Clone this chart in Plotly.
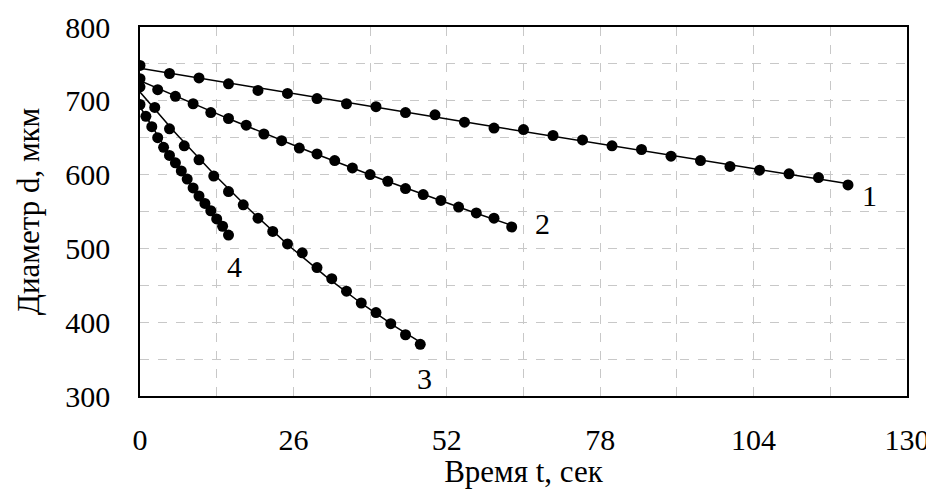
import numpy as np
import plotly.graph_objects as go

# Series 1
t1 = [0, 5, 10, 15, 20, 25, 30, 35, 40, 45, 50, 55, 60, 65, 70, 75, 80, 85, 90, 95, 100, 105, 110, 115, 120]
d1 = [748, 737, 731, 723, 714, 710, 703, 696, 692, 684, 681, 671, 663, 661, 653, 647, 639, 634, 625, 619, 611, 606, 601, 596, 586]
# Series 2
t2 = [0, 3, 6, 9, 12, 15, 18, 21, 24, 27, 30, 33, 36, 39, 42, 45, 48, 51, 54, 57, 60, 63]
d2 = [730, 715, 706, 696, 684, 676, 667, 655, 646, 636, 628, 619, 609, 600, 591, 581, 573, 565, 556, 548, 541, 529]
# Series 3
t3 = [0, 2.5, 5, 7.5, 10, 12.5, 15, 17.5, 20, 22.5, 25, 27.5, 30, 32.5, 35, 37.5, 40, 42.5, 45, 47.5]
d3 = [719, 691, 662, 639, 620, 598, 577, 559, 541, 523, 506, 494, 474, 459, 442, 426, 413, 398, 383, 370]
# Series 4
t4 = [0, 1, 2, 3, 4, 5, 6, 7, 8, 9, 10, 11, 12, 13, 14, 15]
d4 = [695, 679, 665, 650, 637, 626, 616, 605, 594, 582, 571, 561, 551, 540, 530, 518]

series_labels = ["1", "2", "3", "4"]
label_x = [123.7, 68.3, 48.3, 16.0]
label_y = [572, 534, 324, 476]

x_ticks = [0, 26, 52, 78, 104, 130]
y_ticks = [300, 400, 500, 600, 700, 800]

FONT = "Liberation Serif"
FS = 30
FT = 31
fig = go.Figure()

for t, d in [(t1, d1), (t2, d2), (t3, d3), (t4, d4)]:
    coef = np.polyfit(t, d, 2)
    xs = np.linspace(min(t), max(t), 60)
    fig.add_trace(go.Scatter(x=xs, y=np.polyval(coef, xs), mode="lines",
                             line=dict(color="black", width=1.5), showlegend=False, hoverinfo="skip"))
    fig.add_trace(go.Scatter(x=t, y=d, mode="markers",
                             marker=dict(color="black", size=11, symbol="circle"), showlegend=False))

for s, x, y in zip(series_labels, label_x, label_y):
    fig.add_annotation(x=x, y=y, text=s, showarrow=False, font=dict(family=FONT, size=FS, color="black"))

gc = "#c8c8c8"
fig.update_xaxes(range=[0, 130], tickvals=x_ticks, automargin=False, ticklabeloverflow="allow",
                 showgrid=True, gridcolor=gc, griddash="dash", gridwidth=1,
                 minor=dict(dtick=13, tick0=0, showgrid=True, gridcolor=gc, griddash="dash", gridwidth=1),
                 showline=True, linecolor="black", linewidth=1.5, mirror=True,
                 ticks="outside", ticklen=16, tickcolor="rgba(0,0,0,0)",
                 tickfont=dict(family=FONT, size=FS, color="black"),
                 title=dict(text="Время t, сек", font=dict(family=FONT, size=FT, color="black"), standoff=0),
                 zeroline=False)
fig.update_yaxes(range=[300, 800], tickvals=y_ticks, automargin=False, ticklabeloverflow="allow",
                 showgrid=True, gridcolor=gc, griddash="dash", gridwidth=1,
                 minor=dict(dtick=50, tick0=300, showgrid=True, gridcolor=gc, griddash="dash", gridwidth=1),
                 showline=True, linecolor="black", linewidth=1.5, mirror=True,
                 ticks="outside", ticklen=22, tickcolor="rgba(0,0,0,0)",
                 tickfont=dict(family=FONT, size=FS, color="black"),
                 title=dict(text="Диаметр d, мкм", font=dict(family=FONT, size=FT, color="black"), standoff=16),
                 zeroline=False)

fig.update_layout(width=926, height=481, margin=dict(l=132, r=27, t=19, b=93),
                  plot_bgcolor="white", paper_bgcolor="white", showlegend=False)

fig.write_html("out.html")
